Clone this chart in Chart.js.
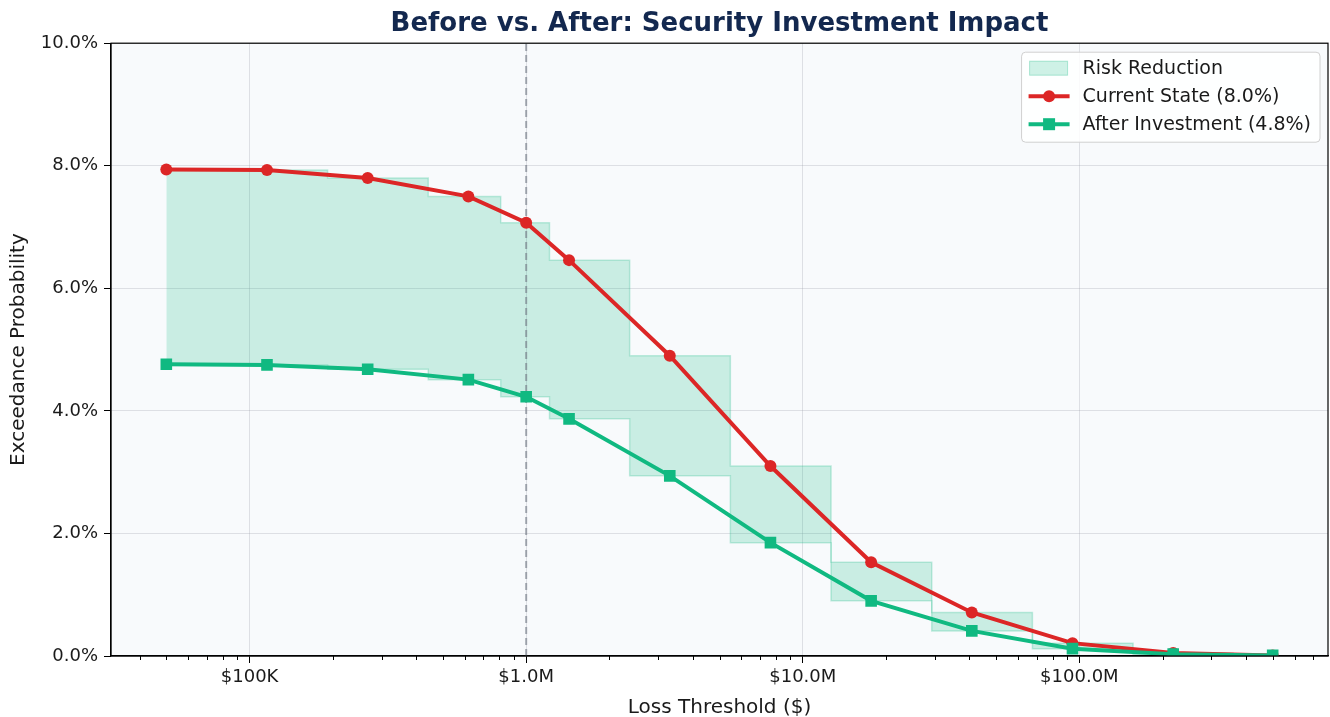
<!DOCTYPE html>
<html>
<head>
<meta charset="utf-8">
<title>Before vs. After: Security Investment Impact</title>
<script src="https://cdn.jsdelivr.net/npm/chart.js@4.4.1/dist/chart.umd.min.js"></script>
<style>
  html, body { margin: 0; padding: 0; background: #ffffff; }
  #holder { width: 1330px; height: 717px; position: relative; }
</style>
</head>
<body>
<div id="holder"><canvas id="impactChart"></canvas></div>
<script>
// loss thresholds in $, probabilities in %
const lossThresholds = [50000, 115600, 267300, 618000, 1000000, 1429000, 3305000, 7641000, 17670000, 40850000, 94450000, 218400000, 500000000];
const currentState = [7.94, 7.93, 7.80, 7.50, 7.07, 6.46, 4.90, 3.10, 1.53, 0.71, 0.21, 0.05, 0.01];
const afterInvestment = [4.76, 4.75, 4.68, 4.51, 4.23, 3.87, 2.94, 1.85, 0.90, 0.41, 0.12, 0.03, 0.01];
const majorTicks = [1e5, 1e6, 1e7, 1e8];
const yTicks = [0, 2, 4, 6, 8, 10];
const refThreshold = 1e6;
const seriesLabels = ["Risk Reduction", "Current State (8.0%)", "After Investment (4.8%)"];

const RED = "#dc2626";
const GREEN = "#10b981";
const FILL = "rgba(16, 185, 129, 0.2)";
const FILL_EDGE = "rgba(16, 185, 129, 0.24)";
const FONT = "'DejaVu Sans', sans-serif";

document.addEventListener("DOMContentLoaded", () => {
  // x range like matplotlib: 5% margin in log space
  const lo = Math.log10(lossThresholds[0]);
  const hi = Math.log10(lossThresholds[lossThresholds.length - 1]);
  const span = hi - lo;
  const xMin = Math.pow(10, lo - 0.05 * span);
  const xMax = Math.pow(10, hi + 0.05 * span);

  // step ('mid') outline, midpoints taken in linear data space
  function stepPoints(xs, ys) {
    const pts = [{ x: xs[0], y: ys[0] }];
    for (let i = 0; i < xs.length - 1; i++) {
      const mid = (xs[i] + xs[i + 1]) / 2;
      pts.push({ x: mid, y: ys[i] }, { x: mid, y: ys[i + 1] });
    }
    pts.push({ x: xs[xs.length - 1], y: ys[ys.length - 1] });
    return pts;
  }
  const toPoints = (ys) => lossThresholds.map((x, i) => ({ x: x, y: ys[i] }));

  function moneyLabel(v) {
    if (v >= 1e6) return "$" + (v / 1e6).toFixed(1) + "M";
    return "$" + (v / 1e3).toFixed(0) + "K";
  }

  const frameAndBackground = {
    id: "frameAndBackground",
    beforeDraw(chart) {
      const { ctx, chartArea: a } = chart;
      ctx.save();
      ctx.fillStyle = "#f8fafc";
      ctx.fillRect(a.left, a.top, a.right - a.left, a.bottom - a.top);
      ctx.restore();
    },
    afterDraw(chart) {
      const { ctx, chartArea: a } = chart;
      const xs = chart.scales.x;
      ctx.save();
      // minor ticks on the log axis
      ctx.strokeStyle = "#000";
      ctx.lineWidth = 1;
      const n0 = Math.floor(Math.log10(xs.min));
      const n1 = Math.ceil(Math.log10(xs.max));
      for (let n = n0; n <= n1; n++) {
        for (let k = 2; k <= 9; k++) {
          const v = k * Math.pow(10, n);
          if (v < xs.min || v > xs.max) continue;
          const px = Math.round(xs.getPixelForValue(v)) + 0.5;
          ctx.beginPath();
          ctx.moveTo(px, a.bottom);
          ctx.lineTo(px, a.bottom + 4);
          ctx.stroke();
        }
      }
      // frame
      ctx.lineWidth = 1.2;
      ctx.strokeRect(a.left, a.top, a.right - a.left, a.bottom - a.top);

      // legend, top right inside the plot
      ctx.font = "19px " + FONT;
      const textW = Math.max(...seriesLabels.map((s) => ctx.measureText(s).width));
      const boxW = 61 + textW + 9;
      const boxH = 90;
      const bx = a.right - 8 - boxW;
      const by = a.top + 9;
      ctx.beginPath();
      ctx.roundRect(bx, by, boxW, boxH, 4);
      ctx.fillStyle = "rgba(255,255,255,0.85)";
      ctx.fill();
      ctx.strokeStyle = "#d0d0d0";
      ctx.lineWidth = 1;
      ctx.stroke();

      const rows = [by + 16, by + 44, by + 72];
      // patch
      ctx.fillStyle = FILL;
      ctx.fillRect(bx + 8, rows[0] - 7, 38, 14);
      ctx.strokeStyle = "rgba(16, 185, 129, 0.3)";
      ctx.strokeRect(bx + 8, rows[0] - 7, 38, 14);
      // line handles
      [[RED, "circle"], [GREEN, "rect"]].forEach(([c, shape], i) => {
        const y = rows[i + 1];
        ctx.strokeStyle = c;
        ctx.lineWidth = 4;
        ctx.beginPath();
        ctx.moveTo(bx + 7, y);
        ctx.lineTo(bx + 48, y);
        ctx.stroke();
        ctx.fillStyle = c;
        ctx.beginPath();
        if (shape === "circle") ctx.arc(bx + 27.5, y, 6, 0, Math.PI * 2);
        else ctx.rect(bx + 21.5, y - 6, 12, 12);
        ctx.fill();
      });
      ctx.fillStyle = "#1a1a1a";
      ctx.textBaseline = "middle";
      ctx.textAlign = "left";
      seriesLabels.forEach((s, i) => ctx.fillText(s, bx + 61, rows[i] + 1));
      ctx.restore();
    },
  };

  const ctx = document.getElementById("impactChart").getContext("2d");
  new Chart(ctx, {
    type: "line",
    data: {
      datasets: [
        {
          label: seriesLabels[0],
          data: stepPoints(lossThresholds, currentState),
          borderColor: FILL_EDGE,
          borderWidth: 1.5,
          backgroundColor: FILL,
          pointRadius: 0,
          fill: "+1",
          order: 5,
        },
        {
          label: "reduction-lower",
          data: stepPoints(lossThresholds, afterInvestment),
          borderColor: FILL_EDGE,
          borderWidth: 1.5,
          pointRadius: 0,
          fill: false,
          order: 4,
        },
        {
          label: "threshold",
          data: [{ x: refThreshold, y: yTicks[0] }, { x: refThreshold, y: yTicks[yTicks.length - 1] }],
          borderColor: "rgba(110, 116, 128, 0.6)",
          borderWidth: 2,
          borderDash: [7, 4],
          pointRadius: 0,
          fill: false,
          order: 3,
        },
        {
          label: seriesLabels[1],
          data: toPoints(currentState),
          borderColor: RED,
          backgroundColor: RED,
          borderWidth: 4,
          pointStyle: "circle",
          pointRadius: 6,
          pointBorderWidth: 0,
          fill: false,
          tension: 0,
          order: 2,
        },
        {
          label: seriesLabels[2],
          data: toPoints(afterInvestment),
          borderColor: GREEN,
          backgroundColor: GREEN,
          borderWidth: 4,
          pointStyle: "rect",
          pointRadius: 8.2,
          pointBorderWidth: 0,
          fill: false,
          tension: 0,
          order: 1,
        },
      ],
    },
    options: {
      responsive: true,
      maintainAspectRatio: false,
      animation: false,
      layout: { autoPadding: false, padding: { left: 0, right: 2, top: 0, bottom: 0 } },
      plugins: {
        legend: { display: false },
        tooltip: { enabled: false },
        title: {
          display: true,
          fullSize: false,
          text: "Before vs. After: Security Investment Impact",
          color: "#13284f",
          font: { family: FONT, size: 26, weight: "bold" },
          padding: { top: 9, bottom: 3 },
        },
      },
      scales: {
        x: {
          type: "logarithmic",
          min: xMin,
          max: xMax,
          afterBuildTicks: (axis) => {
            axis.ticks = majorTicks.map((v) => ({ value: v }));
          },
          afterFit: (axis) => {
            axis.height = 61;
            axis.paddingLeft = 0;
            axis.paddingRight = 0;
          },
          ticks: {
            autoSkip: false,
            maxRotation: 0,
            color: "#1a1a1a",
            padding: 4,
            font: { family: FONT, size: 18 },
            callback: (v) => moneyLabel(v),
          },
          grid: {
            color: "rgba(150, 155, 165, 0.28)",
            lineWidth: 1,
            tickColor: "#000",
            tickLength: 7,
          },
          border: { color: "#000", width: 1.2 },
          title: {
            display: true,
            text: "Loss Threshold ($)",
            color: "#1a1a1a",
            font: { family: FONT, size: 20, lineHeight: 0.9 },
            padding: { top: 0, bottom: 0 },
          },
        },
        y: {
          min: yTicks[0],
          max: yTicks[yTicks.length - 1],
          afterBuildTicks: (axis) => {
            axis.ticks = yTicks.map((v) => ({ value: v }));
          },
          afterFit: (axis) => {
            axis.width = 111;
          },
          ticks: {
            color: "#1a1a1a",
            padding: 6,
            font: { family: FONT, size: 18 },
            callback: (v) => Number(v).toFixed(1) + "%",
          },
          grid: {
            color: "rgba(150, 155, 165, 0.28)",
            lineWidth: 1,
            tickColor: "#000",
            tickLength: 7,
          },
          border: { color: "#000", width: 1.2 },
          title: {
            display: true,
            text: "Exceedance Probability",
            color: "#1a1a1a",
            font: { family: FONT, size: 20 },
            padding: { top: 7, bottom: 0 },
          },
        },
      },
    },
    plugins: [frameAndBackground],
  });
});
</script>
</body>
</html>
